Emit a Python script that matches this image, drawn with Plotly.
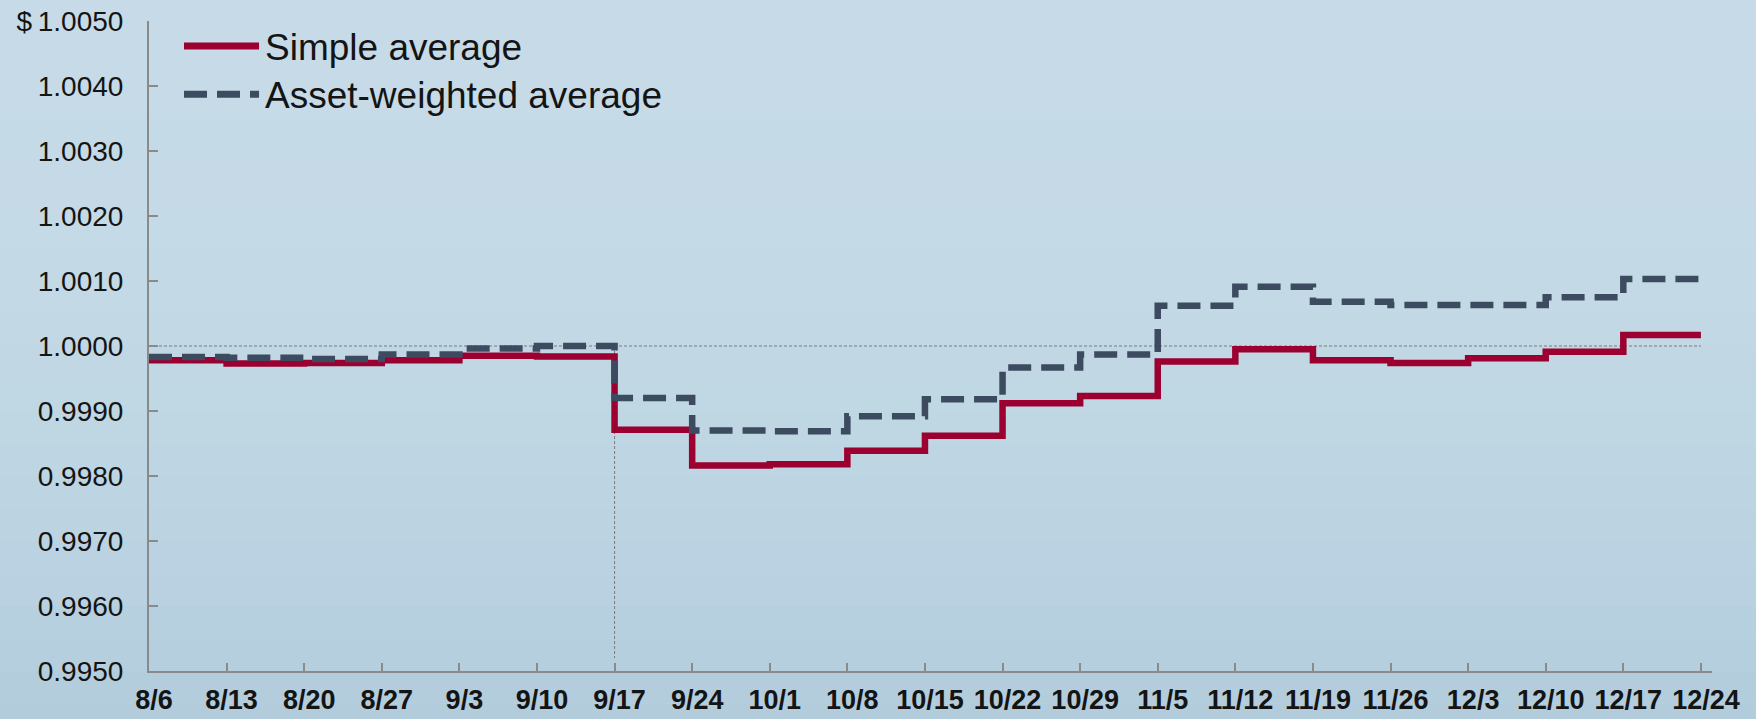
import plotly.graph_objects as go
import pandas as pd

# weekly dates (2010) and the two average series
week_labels = ["8/6", "8/13", "8/20", "8/27", "9/3", "9/10", "9/17", "9/24", "10/1", "10/8",
               "10/15", "10/22", "10/29", "11/5", "11/12", "11/19", "11/26", "12/3", "12/10",
               "12/17", "12/24"]
simple_avg = [0.99978, 0.99973, 0.99974, 0.99978, 0.99985, 0.99984, 0.99871, 0.99816, 0.99818,
              0.99839, 0.99862, 0.99912, 0.99923, 0.99976, 0.99995, 0.99978, 0.99974, 0.99981,
              0.99991, 1.00017, 1.00017]
asset_weighted = [0.99983, 0.99982, 0.99980, 0.99987, 0.99996, 1.00000, 0.99920, 0.99870, 0.99869,
                  0.99892, 0.99918, 0.99967, 0.99987, 1.00062, 1.00091, 1.00068, 1.00063, 1.00063,
                  1.00075, 1.00103, 1.00103]
y_ticks = [0.9950, 0.9960, 0.9970, 0.9980, 0.9990, 1.0000, 1.0010, 1.0020, 1.0030, 1.0040, 1.0050]
y_tick_labels = ["0.9950", "0.9960", "0.9970", "0.9980", "0.9990", "1.0000", "1.0010",
                 "1.0020", "1.0030", "1.0040", "$\u20091.0050"]
event_week = "9/17"

dates = pd.to_datetime(["2010/" + w for w in week_labels], format="%Y/%m/%d")
event_date = dates[week_labels.index(event_week)]

RED = "#9b0031"
SLATE = "#3d4b61"
AXIS_GRAY = "#8a8a8a"
FONT = "Arial, Liberation Sans, sans-serif"

fig = go.Figure()

fig.add_trace(go.Scatter(
    x=dates, y=simple_avg, name="Simple average",
    mode="lines", line=dict(color=RED, width=6.5, shape="hv"),
))
fig.add_trace(go.Scatter(
    x=dates, y=asset_weighted, name="Asset-weighted average",
    mode="lines", line=dict(color=SLATE, width=6.5, shape="hv", dash="23px,10px"),
))

# background: soft vertical gradient in light blue
n_bands = 24
top_rgb = (198, 219, 231)
bot_rgb = (178, 204, 220)
for i in range(n_bands):
    t = (i / (n_bands - 1)) ** 2.2
    c = tuple(int(round(top_rgb[k] + (bot_rgb[k] - top_rgb[k]) * t)) for k in range(3))
    fig.add_shape(type="rect", xref="paper", yref="paper", layer="below",
                  x0=-0.2, x1=1.1, y0=1.1 - (i + 1) * 1.2 / n_bands, y1=1.1 - i * 1.2 / n_bands,
                  fillcolor="rgb(%d,%d,%d)" % c, line=dict(width=0))

# reference lines at $1.0000 and at the 9/17 week
fig.add_shape(type="line", xref="x", yref="y", layer="below",
              x0=dates[0], x1=dates[-1], y0=1.0, y1=1.0,
              line=dict(color="#7a7a7a", width=1, dash="3px,2px"))
fig.add_shape(type="line", xref="x", yref="y", layer="below",
              x0=event_date, x1=event_date, y0=1.0, y1=0.9952,
              line=dict(color="#7a7a7a", width=1, dash="3px,2px"))

# legend drawn by hand so the line samples are as long as in the original
fig.add_shape(type="line", xref="paper", yref="paper", x0=0.0224, x1=0.0704, y0=0.9616, y1=0.9616,
              line=dict(color=RED, width=7))
fig.add_shape(type="line", xref="paper", yref="paper", x0=0.0224, x1=0.0704, y0=0.8872, y1=0.8872,
              line=dict(color=SLATE, width=7, dash="23px,10px"))
fig.add_annotation(xref="paper", yref="paper", x=0.0730, y=0.9600, text="Simple average",
                   showarrow=False, xanchor="left", yanchor="middle",
                   font=dict(family=FONT, size=37, color="#141414"))
fig.add_annotation(xref="paper", yref="paper", x=0.0730, y=0.8856, text="Asset-weighted average",
                   showarrow=False, xanchor="left", yanchor="middle",
                   font=dict(family=FONT, size=37, color="#141414"))

fig.update_layout(
    width=1756, height=719,
    margin=dict(l=149, r=44, t=21, b=48),
    paper_bgcolor="#c3d9e5",
    plot_bgcolor="rgba(0,0,0,0)",
    showlegend=False,
    xaxis=dict(
        range=[dates[0], dates[-1] + pd.Timedelta(days=1)],
        tickvals=dates, ticktext=week_labels,
        showgrid=False, zeroline=False, automargin=False,
        showline=True, linecolor=AXIS_GRAY, linewidth=2,
        ticks="inside", ticklen=8, tickwidth=2, tickcolor=AXIS_GRAY,
        tickfont=dict(family=FONT, size=27, color="#141414", weight="bold"),
        ticklabelstandoff=4, ticklabelshift=5,
    ),
    yaxis=dict(
        range=[0.9950, 1.0050],
        tickvals=y_ticks, ticktext=y_tick_labels,
        showgrid=False, zeroline=False, automargin=False,
        showline=True, linecolor=AXIS_GRAY, linewidth=2,
        ticks="inside", ticklen=9, tickwidth=2, tickcolor=AXIS_GRAY,
        tickfont=dict(family=FONT, size=28, color="#141414"),
        ticklabelstandoff=18,
    ),
)

fig.write_html("out.html", config={"displayModeBar": False},
               post_script="document.body.style.margin='0px';")
